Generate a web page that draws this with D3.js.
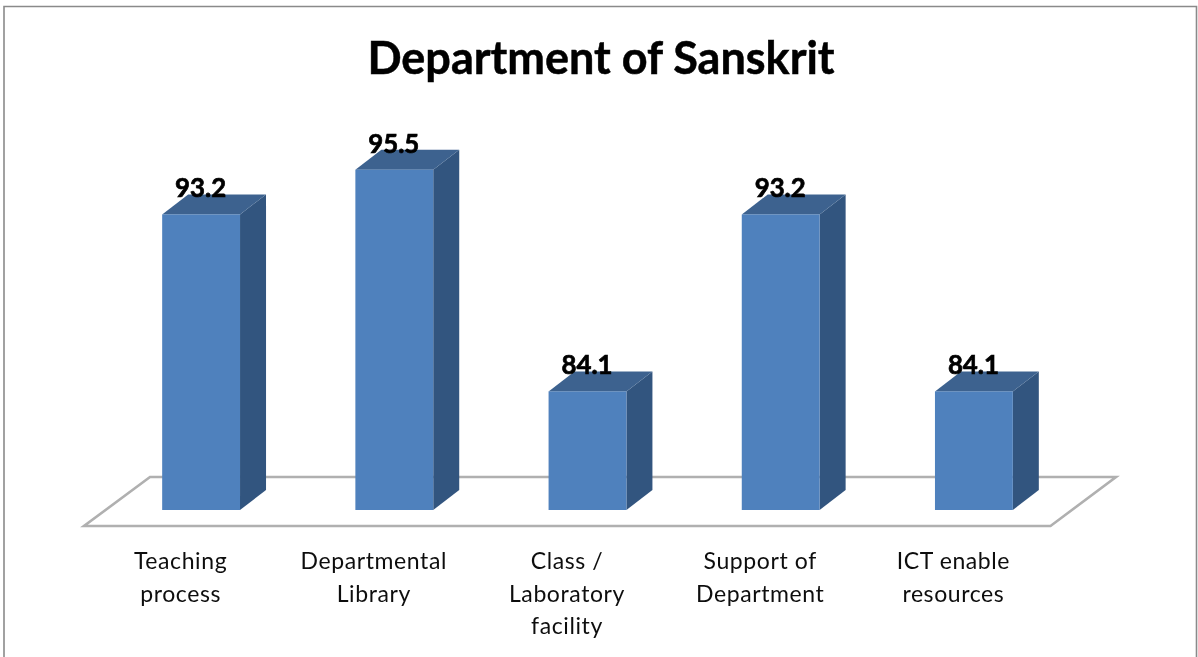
<!DOCTYPE html>
<html><head><meta charset="utf-8">
<script src="https://cdn.jsdelivr.net/npm/d3@7"></script>
<style>html,body{margin:0;padding:0;background:#fff}svg{display:block}text{font-family:Lato,"Open Sans",sans-serif}</style>
</head><body>
<svg id="c" width="1198" height="657"></svg>
<script>
const chartTitle = "Department of Sanskrit";
const categories = ["Teaching process","Departmental Library","Class / Laboratory facility","Support of Department","ICT enable resources"];
const categoryLines = [["Teaching","process"],["Departmental","Library"],["Class /","Laboratory","facility"],["Support of","Department"],["ICT enable","resources"]];
const values = [93.2,95.5,84.1,93.2,84.1];

const root = d3.select("#c");
const depthX = 26, depthY = 20;
const x = d3.scaleBand().domain(categories).range([104.5,1070.5]).paddingInner(0.597).paddingOuter(0.2985);
const y = d3.scaleLinear().domain([78,96]).range([510,160]);

root.append("defs").append("filter").attr("id","soft").attr("x",0).attr("y",0).attr("width",1).attr("height",1)
  .attr("filterUnits","userSpaceOnUse").attr("width",1198).attr("height",657)
  .append("feGaussianBlur").attr("stdDeviation",0.5);

// frame
root.append("path").attr("d","M4,657V6.5H1196.5V657").attr("fill","none").attr("stroke","#8a8a8a").attr("stroke-width",1.6);

const svg = root.append("g").attr("filter","url(#soft)");

// title
svg.append("text").attr("x",601).attr("y",74).attr("text-anchor","middle")
  .attr("font-size",38.5).attr("font-weight",700).attr("fill","#000")
  .attr("stroke","#000").attr("stroke-width",0.5)
  .style("font-size","45px").text(chartTitle);

// floor
const [r0,r1] = x.range();
const floorFront = y.range()[0]+16, floorBack = floorFront-49;
svg.append("path").attr("d",`M${r0-20.5},${floorFront}H${r1-20}L${r1+45.5},${floorBack}H${r0+45.5}Z`)
  .attr("fill","#fff").attr("stroke","#b0b0b0").attr("stroke-width",2.6);

// bars
const bars = svg.selectAll("g.bar").data(categories.map((c,i)=>({c,v:values[i],lines:categoryLines[i]}))).join("g").attr("class","bar");
bars.append("path").attr("fill","#33557f").attr("d",d=>{
  const R=x(d.c)+x.bandwidth(),t=y(d.v),b=y(78);
  return `M${R},${t}L${R+depthX},${t-depthY}V${b-depthY}L${R},${b}Z`;});
bars.append("path").attr("fill","#3c628f").attr("d",d=>{
  const L=x(d.c),R=L+x.bandwidth(),t=y(d.v);
  return `M${L},${t}L${L+depthX},${t-depthY}H${R+depthX}L${R},${t}Z`;});
bars.append("rect").attr("x",d=>x(d.c)).attr("y",d=>y(d.v)).attr("width",x.bandwidth())
  .attr("height",d=>y(78)-y(d.v)).attr("fill","#4f81bd");

// value labels
bars.append("text").attr("x",d=>x(d.c)+x.bandwidth()/2-0.5).attr("y",d=>y(d.v)-17)
  .attr("text-anchor","middle").attr("font-size",26).attr("font-weight",700).attr("fill","#000")
  .attr("stroke","#000").attr("stroke-width",0.7)
  .attr("textLength",51).attr("lengthAdjust","spacingAndGlyphs").text(d=>d.v.toFixed(1));

// category labels
bars.each(function(d){
  const g=d3.select(this);
  d.lines.forEach((l,i)=>g.append("text").attr("x",x(d.c)+x.bandwidth()/2-20.5).attr("y",569+i*32.7)
    .attr("text-anchor","middle").attr("font-size",23).attr("fill","#111").attr("letter-spacing",0.6).text(l));
});
</script>
</body></html>
